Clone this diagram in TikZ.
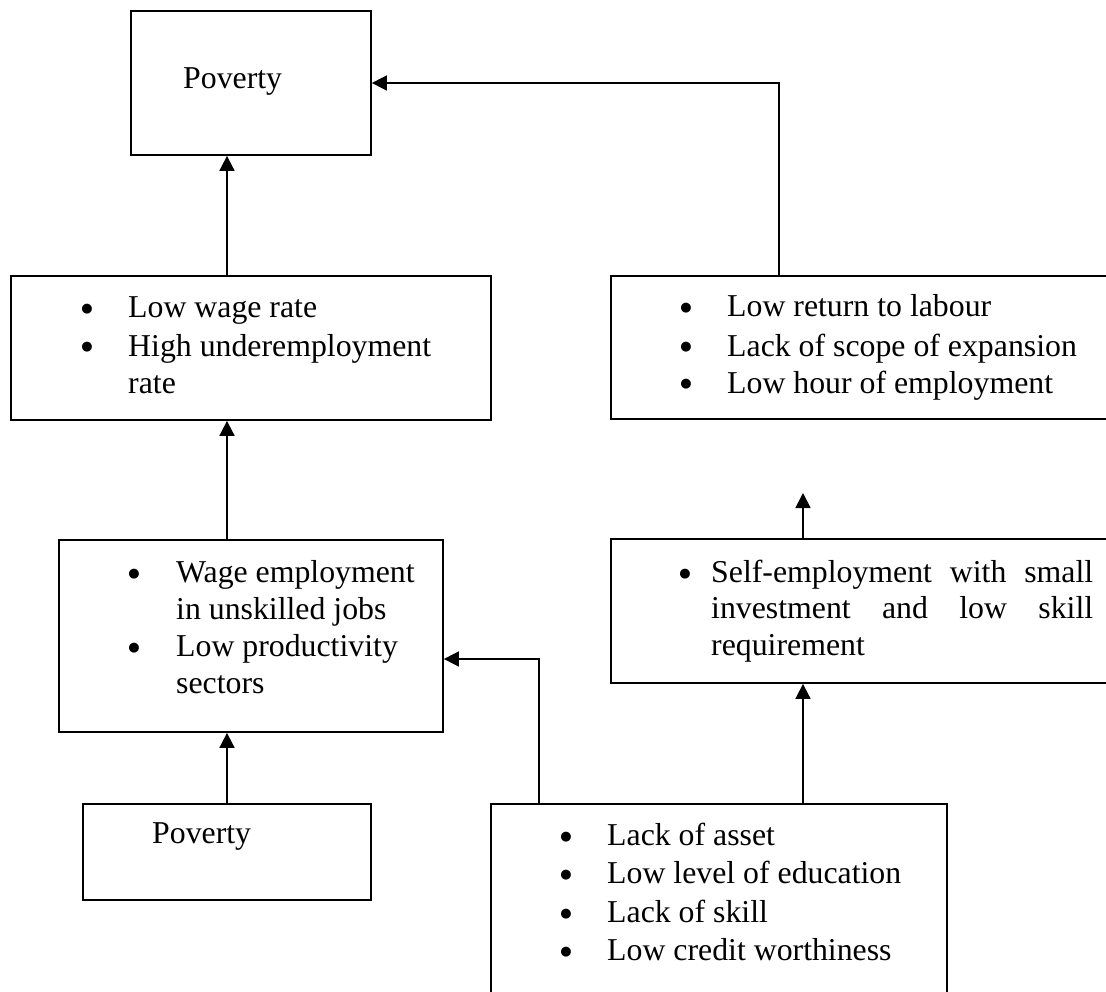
\documentclass[tikz,border=0pt]{standalone}
\usepackage{fontspec}
\setmainfont{Liberation Serif}
\newfontfamily\dejavu{DejaVu Sans}
\usetikzlibrary{arrows.meta}
\begin{document}
\begin{tikzpicture}[x=1pt,y=-1pt,
  box/.style={draw,line width=1.8pt,rectangle,inner sep=0pt,minimum width=#1},
  txt/.style={anchor=base west,inner sep=0pt,font=\fontsize{31.8}{37.5}\selectfont},
  bul/.style={anchor=base,inner sep=0pt,yshift=5pt,font=\dejavu\fontsize{13}{13}\selectfont},
  arr/.style={line width=1.8pt,-{Triangle[length=15pt,width=15pt]}}]
\useasboundingbox (0,0) rectangle (1106,992);
% boxes
\node[box=240pt,minimum height=144pt] (pov1) at (251,83) {};
\node[box=480pt,minimum height=144pt] (b2L) at (251,348) {};
\node[box=501pt,minimum height=143pt] (b2R) at (861.5,347.5) {};
\node[box=384pt,minimum height=192pt] (b3L) at (251,636) {};
\node[box=501pt,minimum height=144pt] (b3R) at (861.5,611) {};
\node[box=288pt,minimum height=96pt] (pov2) at (227,852) {};
\node[box=456pt,minimum height=206pt] (b4) at (719,907) {};
% texts
\node[txt] (t1) at (183,89) {Poverty};
\node[bul] (d21) at (87,318) {●};
\node[txt] (t21) at (128,318) {Low wage rate};
\node[bul] (d22) at (87,356) {●};
\node[txt] (t22) at (128,356) {High underemployment};
\node[txt] (t23) at (128,393) {rate};
\node[bul] (d31) at (686,317) {●};
\node[txt] (t31) at (727,317) {Low return to labour};
\node[bul] (d32) at (686,356) {●};
\node[txt] (t32) at (727,356) {Lack of scope of expansion};
\node[bul] (d33) at (686,393) {●};
\node[txt] (t33) at (727,393) {Low hour of employment};
\node[bul] (d41) at (134,582) {●};
\node[txt] (t41) at (176,582) {Wage employment};
\node[txt] (t42) at (176,619) {in unskilled jobs};
\node[bul] (d43) at (134,656) {●};
\node[txt] (t43) at (176,656) {Low productivity};
\node[txt] (t44) at (176,693) {sectors};
\node[bul] (d51) at (685,582) {●};
\node[txt] (t51) at (711,582) {\hbox to 382pt{Self-employment\hfil\ with\hfil\ small}};
\node[txt] (t52) at (711,618) {\hbox to 382pt{investment\hfil\ and\hfil\ low\hfil\ skill}};
\node[txt] (t53) at (711,655) {requirement};
\node[txt] (t6) at (152,843) {Poverty};
\node[bul] (d71) at (566,845) {●};
\node[txt] (t71) at (607,845) {Lack of asset};
\node[bul] (d72) at (566,883) {●};
\node[txt] (t72) at (607,883) {Low level of education};
\node[bul] (d73) at (566,922) {●};
\node[txt] (t73) at (607,922) {Lack of skill};
\node[bul] (d74) at (566,960) {●};
\node[txt] (t74) at (607,960) {Low credit worthiness};
% helper coordinates
\coordinate (xa) at (227,0);
\coordinate (xb) at (779,83);
\coordinate (xc) at (803,0);
\coordinate (xd) at (539,659);
\coordinate (tipR) at (803,493);
% connectors
\draw[arr] (b2L.north -| xa) -- (pov1.south -| xa);
\draw[arr] (b2R.north -| xb) -- (xb) -- (pov1.east |- xb);
\draw[arr] (b3L.north -| xa) -- (b2L.south -| xa);
\draw[arr] (b3R.north -| xc) -- (tipR);
\draw[arr] (pov2.north -| xa) -- (b3L.south -| xa);
\draw[arr] (b4.north -| xc) -- (b3R.south -| xc);
\draw[arr] (b4.north -| xd) -- (xd) -- (b3L.east |- xd);
\end{tikzpicture}
\end{document}
